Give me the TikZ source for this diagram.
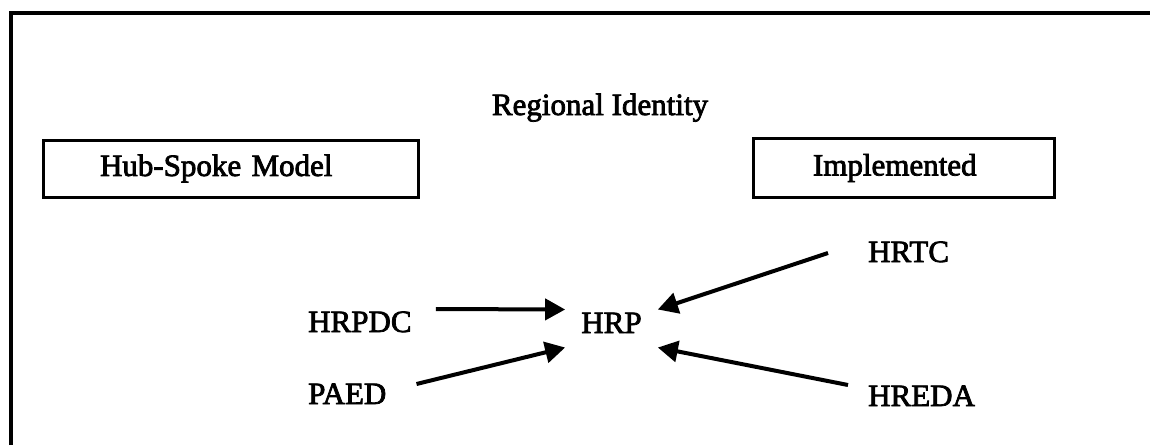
\documentclass[tikz,border=0pt]{standalone}
\usepackage{fontspec}
\usetikzlibrary{arrows.meta}
\newfontfamily\diagfont{Liberation Serif}[FakeBold=2.5]

\begin{document}
\begin{tikzpicture}[x=1pt,y=-1pt,
        every node/.style={inner sep=0pt,font=\diagfont\fontsize{31}{36}\selectfont},
        lbl/.style={text height=21pt,text depth=0pt},
        framebox/.style={draw,line width=3pt,minimum height=57pt,text width=#1,align=left},
        spoke/.style={line width=4pt,-{Triangle[length=20pt,width=21pt]}}]
    \useasboundingbox (0,0) rectangle (1150,445);
    \draw[line width=3.5pt] (11,445) -- (11,13) -- (1150,13);   % outer frame, cut off right and below

    \node[anchor=base] (title) at (600,115) {Regional Identity};

    \node[framebox=375pt] (hub) at (230.5,168.5) {\hspace*{57pt}Hub-Spoke Model};
    \node[framebox=301pt,minimum height=59pt] (impl) at (903.5,168) {\hspace*{60pt}Implemented};

    \node[lbl,anchor=base] (hrp) at (611.5,333) {HRP};

    \node[lbl,anchor=base west] (hrpdc) at (308,332) {HRPDC};
    \node[lbl,anchor=base west] (paed) at (308,404) {PAED};
    \node[lbl,anchor=base west] (hrtc) at (868,262) {HRTC};
    \node[lbl,anchor=base west] (hreda) at (868,406) {HREDA};

    \draw[spoke] ([shift={(24,-12.5)}]hrpdc.east) -- ([shift={(-16,-13)}]hrp.west);
    \draw[spoke] ([shift={(30,-9.5)}]paed.east) -- ([shift={(-16,25)}]hrp.west);
    \draw[spoke] ([shift={(-40,1.5)}]hrtc.west) -- ([shift={(16,-13)}]hrp.east);
    \draw[spoke] ([shift={(-20,-10.5)}]hreda.west) -- ([shift={(16,25)}]hrp.east);
\end{tikzpicture}
\end{document}
